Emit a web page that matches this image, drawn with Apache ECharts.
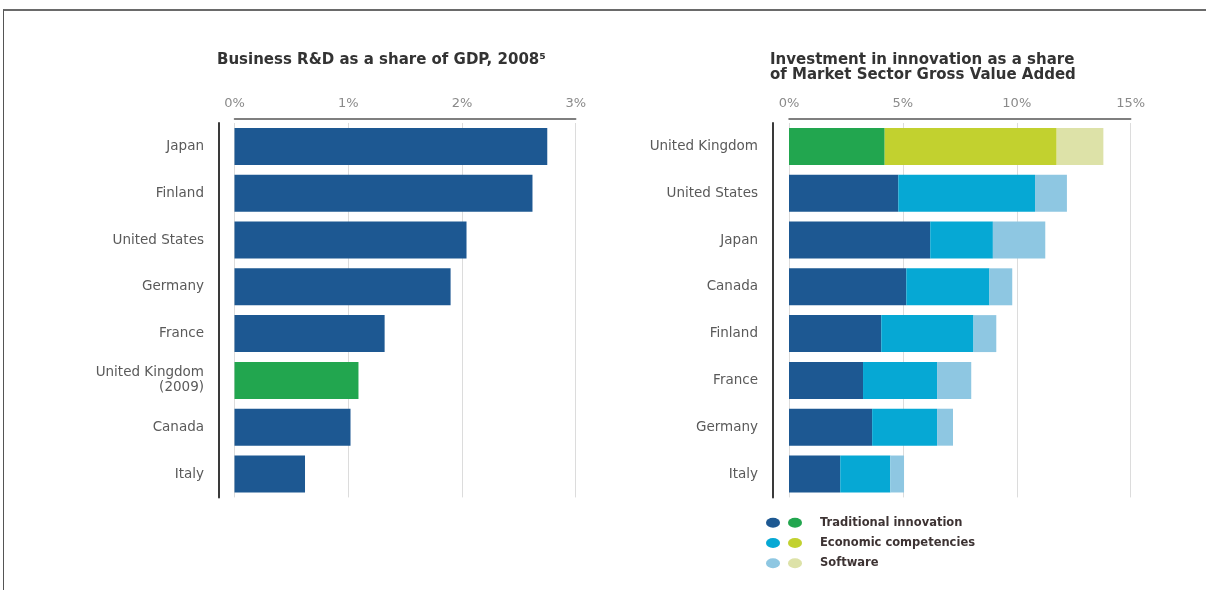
<!DOCTYPE html>
<html>
<head>
<meta charset="utf-8">
<script src="https://cdn.jsdelivr.net/npm/echarts@6/dist/echarts.min.js"></script>
<style>
  html, body { margin: 0; padding: 0; background: #fff; }
  #wrap { position: relative; width: 1206px; height: 590px; overflow: hidden; }
  #chart { position: absolute; left: 0; top: 0; width: 1206px; height: 590px; }
  #frame { position: absolute; left: 3px; top: 9px; width: 1300px; height: 700px;
           border-top: 2px solid #6a6a6a; border-left: 1px solid #555; pointer-events: none; }
</style>
</head>
<body>
<div id="wrap"><div id="chart"></div><div id="frame"></div></div>
<script>
// ---- Data ----
const rdCountries = ['Japan', 'Finland', 'United States', 'Germany', 'France', 'United Kingdom\n(2009)', 'Canada', 'Italy'];
const rdValues = [2.75, 2.62, 2.04, 1.90, 1.32, 1.09, 1.02, 0.62];
const rdTicks = [0, 1, 2, 3];

const invCountries = ['United Kingdom', 'United States', 'Japan', 'Canada', 'Finland', 'France', 'Germany', 'Italy'];
const traditional = [4.2, 4.8, 6.2, 5.15, 4.05, 3.25, 3.65, 2.25];
const economic =    [7.55, 6.0, 2.75, 3.65, 4.05, 3.25, 2.85, 2.2];
const software =    [2.05, 1.4, 2.3, 1.0, 1.0, 1.5, 0.7, 0.6];
const invTicks = [0, 5, 10, 15];

const seriesNames = ['Traditional innovation', 'Economic competencies', 'Software'];
const titleLeft = 'Business R&D as a share of GDP, 2008\u2075';
const titleRight = 'Investment in innovation as a share\nof Market Sector Gross Value Added';

// ---- Styles ----
const blueColors = ['#1d5892', '#06a8d4', '#8ec7e2'];
const ukColors = ['#22a64f', '#c2d12f', '#dde2a8'];
const FONT = 'DejaVu Sans';
const ellipse = 'path://M0,5A7,5 0 1 1 14,5A7,5 0 1 1 0,5Z';

const chart = echarts.init(document.getElementById('chart'), null, { renderer: 'canvas' });

function rdData() {
  return rdValues.map((v, i) => rdCountries[i].indexOf('United Kingdom') === 0
    ? { value: v, itemStyle: { color: ukColors[0] } } : v);
}
function invData(arr, k) {
  return arr.map((v, i) => invCountries[i] === 'United Kingdom'
    ? { value: v, itemStyle: { color: ukColors[k] } } : v);
}

const xAxisCommon = (max, interval) => ({
  type: 'value', position: 'top', min: 0, max: max, interval: interval, offset: 4,
  axisLine: { show: true, onZero: false, lineStyle: { color: '#555', width: 1.5 } },
  axisTick: { show: false },
  splitLine: { show: true, lineStyle: { color: '#dcdcdc', width: 1 } },
  axisLabel: { color: '#8a8a8a', fontFamily: FONT, fontSize: 13, margin: 9,
               formatter: v => v + '%' }
});
const yAxisCommon = (cats, off) => ({
  type: 'category', inverse: true, data: cats, offset: off,
  axisLine: { show: true, onZero: false, lineStyle: { color: '#3a3a3a', width: 2 } },
  axisTick: { show: false },
  axisLabel: { color: '#5a5a5a', fontFamily: FONT, fontSize: 13.5, margin: 15,
               lineHeight: 15, align: 'right' }
});

const legendText = { fontFamily: FONT, fontWeight: 'bold', fontSize: 11.5, lineHeight: 12,
                     color: '#3d3333' };
const legendCommon = {
  orient: 'vertical', top: 511.7, padding: 5,
  icon: ellipse, symbolKeepAspect: false, itemWidth: 14, itemHeight: 10, itemGap: 8.3,
  selectedMode: false
};

const option = {
  animation: false,
  backgroundColor: '#fff',
  title: [
    { text: titleLeft, left: 212, top: 47.5,
      textStyle: { fontFamily: FONT, fontWeight: 'bold', fontSize: 15, color: '#333' } },
    { text: titleRight, left: 765, top: 47.5,
      textStyle: { fontFamily: FONT, fontWeight: 'bold', fontSize: 15, color: '#333', lineHeight: 15 } }
  ],
  grid: [
    { left: 234.5, right: 1206 - 575.7, top: 123, height: 374.4 },
    { left: 789, right: 1206 - 1130.7, top: 123, height: 374.4 }
  ],
  xAxis: [
    Object.assign(xAxisCommon(rdTicks[rdTicks.length - 1], rdTicks[1] - rdTicks[0]), { gridIndex: 0 }),
    Object.assign(xAxisCommon(invTicks[invTicks.length - 1], invTicks[1] - invTicks[0]), { gridIndex: 1 })
  ],
  yAxis: [
    Object.assign(yAxisCommon(rdCountries, 15.5), { gridIndex: 0 }),
    Object.assign(yAxisCommon(invCountries, 16), { gridIndex: 1 })
  ],
  legend: [
    Object.assign({}, legendCommon, {
      data: seriesNames, left: 761, formatter: () => ' ',
      textStyle: Object.assign({}, legendText) }),
    Object.assign({}, legendCommon, {
      data: seriesNames.map(n => 'UK ' + n), left: 783,
      formatter: n => n.replace(/^UK /, ''),
      textStyle: Object.assign({}, legendText, { padding: [0, 0, 0, 13] }) })
  ],
  series: [
    { type: 'bar', name: 'R&D', xAxisIndex: 0, yAxisIndex: 0, data: rdData(),
      barCategoryGap: '21%', itemStyle: { color: blueColors[0] } },
    { type: 'bar', name: seriesNames[0], xAxisIndex: 1, yAxisIndex: 1, stack: 'inv',
      data: invData(traditional, 0), barCategoryGap: '21%', itemStyle: { color: blueColors[0] } },
    { type: 'bar', name: seriesNames[1], xAxisIndex: 1, yAxisIndex: 1, stack: 'inv',
      data: invData(economic, 1), barCategoryGap: '21%', itemStyle: { color: blueColors[1] } },
    { type: 'bar', name: seriesNames[2], xAxisIndex: 1, yAxisIndex: 1, stack: 'inv',
      data: invData(software, 2), barCategoryGap: '21%', itemStyle: { color: blueColors[2] } },
    // legend-only entries for the UK colour set
    { type: 'bar', name: 'UK ' + seriesNames[0], xAxisIndex: 1, yAxisIndex: 1, stack: 'inv', data: [], itemStyle: { color: ukColors[0] } },
    { type: 'bar', name: 'UK ' + seriesNames[1], xAxisIndex: 1, yAxisIndex: 1, stack: 'inv', data: [], itemStyle: { color: ukColors[1] } },
    { type: 'bar', name: 'UK ' + seriesNames[2], xAxisIndex: 1, yAxisIndex: 1, stack: 'inv', data: [], itemStyle: { color: ukColors[2] } }
  ]
};
chart.setOption(option);
</script>
</body>
</html>
